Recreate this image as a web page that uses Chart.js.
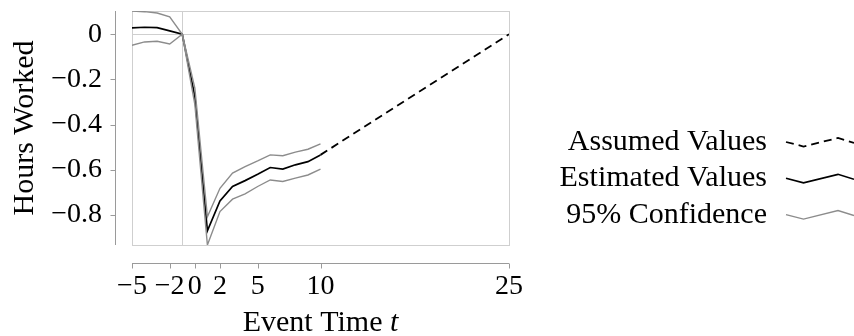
<!DOCTYPE html>
<html>
<head>
<meta charset="utf-8">
<script src="https://cdn.jsdelivr.net/npm/chart.js@4.4.1/dist/chart.umd.min.js"></script>
<style>
html,body{margin:0;padding:0;background:#fff;}
</style>
</head>
<body>
<canvas id="chart" width="854" height="336"></canvas>
<script>
// Event study: hours worked around event time
const eventTime = [-5,-4,-3,-2,-1,0,1,2,3,4,5,6,7,8,9,10];
const estimated = [0.028,0.031,0.029,0.015,0,-0.275,-0.870,-0.738,-0.674,-0.648,-0.620,-0.590,-0.597,-0.578,-0.564,-0.534];
const upperCI   = [0.103,0.100,0.094,0.077,0,-0.238,-0.808,-0.682,-0.615,-0.586,-0.561,-0.534,-0.538,-0.522,-0.509,-0.485];
const lowerCI   = [-0.049,-0.034,-0.031,-0.043,0,-0.310,-0.933,-0.785,-0.730,-0.707,-0.674,-0.645,-0.652,-0.637,-0.623,-0.597];
const assumedTime = [10,25];
const assumedValues = [-0.534,0];
const xTicks = [-5,-2,0,2,5,10,25];
const yTicks = [0,-0.2,-0.4,-0.6,-0.8];
const refX = [-1];
const refY = [0];
const legendOrder = ['Assumed Values','Estimated Values','95% Confidence'];

const SERIF = "'Liberation Serif', 'DejaVu Serif', serif";
const GRAY = '#8c8c8c';

function pts(xs, ys) { return xs.map((x,i)=>({x:x, y:ys[i]})); }
function fmt(v) { return v===0 ? '0' : (v<0 ? '\u2212'+Math.abs(v) : String(v)); }

// frame, reference lines, detached axes
const framePlugin = {
    id:'frame',
    beforeDatasetsDraw(chart) {
        const ctx=chart.ctx, a=chart.chartArea, xs=chart.scales.x, ys=chart.scales.y;
        const r = v => Math.round(v)+0.5;
        ctx.save();
        ctx.lineWidth=1;
        ctx.strokeStyle='#cfcfcf';
        ctx.strokeRect(r(a.left), r(a.top), Math.round(a.right-a.left), Math.round(a.bottom-a.top));
        ctx.beginPath();
        refX.forEach(v=>{ const p=r(xs.getPixelForValue(v)); ctx.moveTo(p,a.top); ctx.lineTo(p,a.bottom); });
        refY.forEach(v=>{ const p=r(ys.getPixelForValue(v)); ctx.moveTo(a.left,p); ctx.lineTo(a.right,p); });
        ctx.stroke();

        ctx.strokeStyle='#9a9a9a';
        ctx.beginPath();
        const ax = r(a.left-17);
        ctx.moveTo(ax,a.top); ctx.lineTo(ax,a.bottom);
        yTicks.forEach(v=>{ const p=r(ys.getPixelForValue(v)); ctx.moveTo(ax,p); ctx.lineTo(ax-5,p); });
        const ay = r(a.bottom+18);
        ctx.moveTo(a.left,ay); ctx.lineTo(a.right,ay);
        xTicks.forEach(v=>{ const p=r(xs.getPixelForValue(v)); ctx.moveTo(p,ay); ctx.lineTo(p,ay+5); });
        ctx.stroke();
        ctx.restore();
    },
    afterDraw(chart) {
        const ctx=chart.ctx, a=chart.chartArea;
        ctx.save();
        ctx.fillStyle='#000';
        ctx.textBaseline='alphabetic';
        // x title with italic t
        ctx.font='30px '+SERIF;
        const w1=ctx.measureText('Event Time ').width;
        ctx.font='italic 30px '+SERIF;
        const w2=ctx.measureText('t').width;
        let x0=(a.left+a.right)/2-(w1+w2)/2;
        ctx.font='30px '+SERIF;
        ctx.fillText('Event Time ', x0, 331);
        ctx.font='italic 30px '+SERIF;
        ctx.fillText('t', x0+w1, 331);

        // legend
        ctx.font='30px '+SERIF;
        ctx.textAlign='right';
        const key=[[0,0],[17.5,4.5],[52,-4],[68,1]];
        legendOrder.forEach((lab,i)=>{
            const ds=chart.data.datasets.find(d=>d.label===lab);
            const base=150+i*36.3;
            ctx.fillText(lab, 767, base);
            ctx.beginPath();
            key.forEach((p,j)=>{ const px=786+p[0], py=base-8+p[1]; j?ctx.lineTo(px,py):ctx.moveTo(px,py); });
            ctx.strokeStyle=ds.borderColor;
            ctx.lineWidth=ds.borderWidth;
            ctx.setLineDash(ds.borderDash||[]);
            ctx.stroke();
        });
        ctx.restore();
    }
};

new Chart(document.getElementById('chart'), {
    type:'line',
    data:{
        datasets:[
            {label:'95% Confidence', data:pts(eventTime,upperCI), borderColor:GRAY, borderWidth:1.4},
            {label:'95% Confidence (lower)', data:pts(eventTime,lowerCI), borderColor:GRAY, borderWidth:1.4},
            {label:'Estimated Values', data:pts(eventTime,estimated), borderColor:'#000', borderWidth:1.7},
            {label:'Assumed Values', data:pts(assumedTime,assumedValues), borderColor:'#000', borderWidth:1.8, borderDash:[8,5]}
        ]
    },
    options:{
        responsive:false,
        animation:false,
        elements:{point:{radius:0}, line:{tension:0, fill:false}},
        layout:{padding:{left:0, top:11, right:345, bottom:0}},
        plugins:{legend:{display:false}, tooltip:{enabled:false}},
        scales:{
            x:{
                type:'linear', min:-5, max:25,
                grid:{display:false, drawTicks:false}, border:{display:false},
                afterBuildTicks: s => { s.ticks = xTicks.map(v=>({value:v})); },
                ticks:{autoSkip:false, maxRotation:0, padding:25, color:'#000', font:{family:SERIF, size:28}, callback:v=>fmt(v)},
                afterFit: s => { s.height=91; s.paddingLeft=0; s.paddingRight=0; }
            },
            y:{
                type:'linear', min:Math.min(...lowerCI), max:Math.max(...upperCI),
                grid:{display:false, drawTicks:false}, border:{display:false},
                afterBuildTicks: s => { s.ticks = yTicks.map(v=>({value:v})); },
                ticks:{autoSkip:false, padding:30, color:'#000', font:{family:SERIF, size:28}, callback:v=>fmt(v)},
                title:{display:true, text:'Hours Worked', color:'#000', font:{family:SERIF, size:30}, padding:{top:7, bottom:0}},
                afterFit: s => { s.width=132; s.paddingTop=0; s.paddingBottom=0; }
            }
        }
    },
    plugins:[framePlugin]
});
</script>
</body>
</html>
